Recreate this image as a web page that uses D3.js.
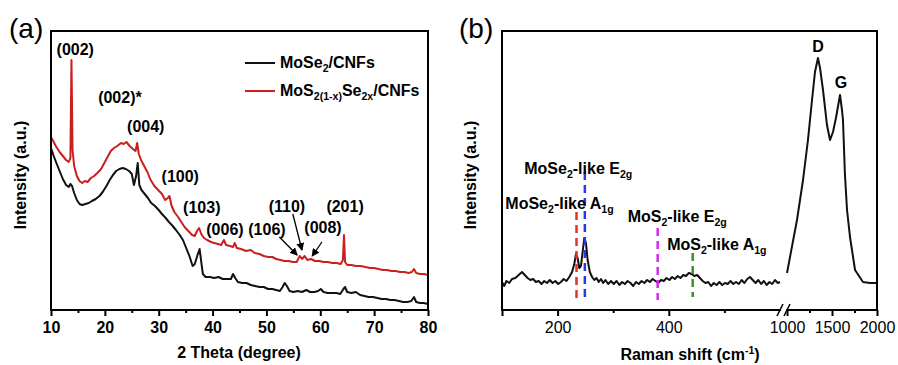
<!DOCTYPE html>
<html>
<head>
<meta charset="utf-8">
<script src="https://cdn.jsdelivr.net/npm/d3@7"></script>
<style>
  body { margin: 0; background: #fff; }
  svg { display: block; font-family: Arial, "Liberation Sans", sans-serif; }
</style>
</head>
<body>
<svg id="chart" width="898" height="365"></svg>
<script>
// ---------- panel (a) : XRD ----------
const redTheta = [10.0,10.5,11.0,11.6,12.2,12.8,13.3,13.6,13.8,14.0,14.3,14.8,15.3,15.8,16.3,16.8,17.4,18.0,18.6,19.3,
  20.0,20.6,21.1,21.7,22.3,23.0,23.5,24.0,24.6,25.2,25.7,26.0,26.3,26.8,27.3,27.9,28.5,29.2,29.9,30.6,
  31.2,31.7,32.0,32.4,32.9,33.6,34.2,34.8,35.5,36.2,36.7,37.1,37.5,37.9,38.4,39.0,39.7,40.3,41.0,41.6,
  42.1,42.5,43.2,43.8,44.1,44.5,45.3,46.2,47.1,47.8,48.7,49.5,50.3,51.1,51.8,52.6,53.3,54.1,54.9,55.6,
  56.2,56.6,57.1,57.6,58.3,59.0,59.8,60.6,61.4,62.2,63.0,63.8,64.2,64.4,64.6,65.0,65.8,66.6,67.5,68.4,
  69.2,70.0,70.8,71.6,72.4,73.2,74.0,74.8,75.6,76.4,77.0,77.4,77.8,78.5,79.2,80.0];
const redInt = [173,168,163,158,154,150,148,152,250,160,144,134,129,127,129,128,132,134,137,141,
  148,154,159,162,164,167,166,168,164,161,159,167,156,149,144,138,130,124,120,116,
  110,112,114,104,98,93,88,83,79,75,74,79,82,76,72,70,68,67,66,65,
  70,65,64,63,67,62,61,59,60,57,56,54,53,53,51,50,49,49,48,48,
  54,51,54,50,51,49,49,48,48,47,47,46,50,75,48,45,45,44,44,43,
  42,42,41,40,40,39,39,38,38,37,38,41,37,36,36,35];

const blackTheta = [10.0,10.5,11.0,11.6,12.2,12.8,13.3,13.6,13.9,14.3,14.8,15.3,15.8,16.4,17.0,17.6,18.3,19.0,19.6,20.3,
  20.9,21.5,22.1,22.7,23.3,23.9,24.5,25.0,25.4,25.8,26.1,26.4,26.8,27.4,28.0,28.6,29.3,30.0,30.6,31.3,
  31.9,32.6,33.2,33.9,34.5,35.1,35.7,36.3,36.7,37.2,37.6,37.9,38.2,38.7,39.5,40.3,41.1,41.9,42.7,43.4,
  43.8,44.2,44.7,45.5,46.3,47.1,47.9,48.7,49.5,50.3,51.1,51.8,52.5,53.0,53.4,53.8,54.3,55.0,55.8,56.6,
  57.4,58.1,58.9,59.6,60.1,60.6,61.4,62.2,63.0,63.7,64.3,64.6,65.0,65.8,66.6,67.4,68.2,69.0,69.8,70.6,
  71.4,72.2,73.0,73.8,74.6,75.4,76.2,76.9,77.4,77.8,78.5,79.2,80.0];
const blackInt = [162,154,147,139,131,125,123,126,124,117,110,106,105,106,107,109,111,114,118,124,
  130,135,139,141,142,141,139,136,125,134,147,125,120,116,112,107,104,100,96,92,
  88,84,80,75,70,62,54,44,46,55,61,48,36,33,33,32,33,31,31,31,
  36,32,28,27,27,25,24,23,23,21,21,20,19,23,27,24,19,18,19,18,
  20,18,18,19,21,18,17,17,17,16,21,23,18,17,18,15,14,13,13,12,
  11,11,10,10,9,8,8,9,13,8,7,7,6];

const xrdTicks = [10, 20, 30, 40, 50, 60, 70, 80];
const xrdMinorTicks = [15, 25, 35, 45, 55, 65, 75];

const peakNames = ['(002)', '(002)*', '(004)', '(100)', '(103)', '(006)', '(106)', '(110)', '(008)', '(201)'];
const peakLabelTheta = [14.5, 22.8, 27.6, 34.0, 38.0, 42.3, 50.1, 53.8, 60.5, 64.6];
const peakLabelInt = [255, 207, 178, 128, 97, 75, 75, 98, 77, 98];

// arrows for the small peaks: from [theta, int] to [theta, int]
const arrowFrom = [[52.4, 73], [54.9, 96], [60.3, 68]];
const arrowTo = [[55.7, 55], [56.6, 60], [58.5, 54]];

// ---------- panel (b) : Raman ----------
const ramanLowShift = [100,104,108,113,118,124,130,136,141,146,151,156,161,166,171,176,181,186,191,196,
  201,206,211,216,221,226,230,233,236,239,242,245,248,251,254,258,262,266,270,274,
  278,282,286,291,296,301,306,311,316,321,326,331,336,341,346,351,356,361,366,371,
  376,381,386,391,396,401,406,411,416,421,426,431,436,441,446,451,456,461,466,471,
  476,481,486,491,496,501,506,511,516,521,526,531,536,541,546,551,556,561,566,571,
  576,581,586,591,596,600];
const ramanLowInt = [28,24,29,27,31,32,35,38,35,32,30,31,28,29,26,29,27,30,27,29,
  26,28,31,29,33,38,46,56,52,42,44,58,72,67,50,38,33,30,32,28,
  31,27,30,26,29,26,29,25,28,26,29,27,24,28,26,29,27,30,28,31,
  29,27,30,29,32,30,33,31,34,32,35,34,37,36,34,35,32,29,27,28,
  24,27,25,28,25,27,26,29,26,28,26,30,27,31,33,30,27,30,26,29,
  25,28,26,30,27,28];

const ramanHighShift = [1000,1111,1178,1233,1278,1311,1344,1367,1400,1444,1478,1511,1544,1589,1611,1622,1644,1667,1700,1756,1844,1922,2000];
const ramanHighInt = [37,90,130,170,210,238,252,242,220,185,170,178,192,215,200,190,135,100,73,40,28,27,27];

const ramanLowTicks = [100, 200, 400];
const ramanLowMinorTicks = [300, 500];
const ramanHighTicks = [1000, 1500, 2000];
const ramanHighMinorTicks = [1250, 1750];

// dashed marker lines: position, top and bottom intensity, colour
const modeShift = [234, 249, 380, 443];
const modeTop = [98, 138, 82, 57];
const modeBottom = [10, 10, 10, 13];
const modeColor = ['#e2322a', '#2a36e8', '#d629ea', '#3f8f2c'];

// mode labels: [main, sub, main, sub]
const modeLabels = [
  ['MoSe', '2', '-like E', '2g'],
  ['MoSe', '2', '-like A', '1g'],
  ['MoS', '2', '-like E', '2g'],
  ['MoS', '2', '-like A', '1g']
];
const modeLabelShift = [140, 106, 326, 397];
const modeLabelInt = [136, 101, 88, 60];

const bandNames = ['D', 'G'];
const bandShift = [1344, 1600];
const bandInt = [258, 222];

// ----------------------------------------------------------
const svg = d3.select('#chart');
const FONT = 'Arial, "Liberation Sans", sans-serif';

const yScale = d3.scaleLinear().domain([0, 279]).range([310, 31]);

// defs: arrowhead
svg.append('defs').append('marker')
    .attr('id', 'arrow')
    .attr('viewBox', '0 0 8 8')
    .attr('refX', 7).attr('refY', 4)
    .attr('markerWidth', 8).attr('markerHeight', 8)
    .attr('markerUnits', 'userSpaceOnUse')
    .attr('orient', 'auto')
    .append('path')
    .attr('d', 'M0,0 L8,4 L0,8 Z')
    .attr('fill', '#000');

// text with sub / superscripts. parts alternate normal / sub
function richText(parent, x, y, parts, opts) {
    const t = parent.append('text')
        .attr('x', x).attr('y', y)
        .attr('font-family', FONT)
        .attr('font-size', opts.size)
        .attr('font-weight', opts.bold ? 'bold' : 'normal')
        .attr('text-anchor', opts.anchor || 'start');
    let shift = 0;
    parts.forEach((p, i) => {
        const isSub = i % 2 === 1;
        const target = isSub ? (opts.sup ? -6 : 4) : 0;
        t.append('tspan')
            .attr('dy', target - shift)
            .attr('font-size', isSub ? opts.size * 0.66 : opts.size)
            .text(p);
        shift = target;
    });
    return t;
}

function styleAxis(g, bold) {
    g.select('.domain').remove();
    g.selectAll('line').attr('stroke', '#000').attr('stroke-width', 2);
    g.selectAll('text')
        .attr('font-family', FONT)
        .attr('font-size', 16)
        .attr('font-weight', bold ? 'bold' : 'normal')
        .attr('fill', '#000');
}

// ================= panel (a) =================
const xA = d3.scaleLinear().domain([10, 80]).range([51, 428]);
const gA = svg.append('g');

const lineA = d3.line().x(d => xA(d[0])).y(d => yScale(d[1]));

gA.append('path')
    .datum(blackTheta.map((t, i) => [t, blackInt[i]]))
    .attr('d', lineA)
    .attr('fill', 'none')
    .attr('stroke', '#111')
    .attr('stroke-width', 2)
    .attr('stroke-linejoin', 'round');

gA.append('path')
    .datum(redTheta.map((t, i) => [t, redInt[i]]))
    .attr('d', lineA)
    .attr('fill', 'none')
    .attr('stroke', '#c8201f')
    .attr('stroke-width', 2)
    .attr('stroke-linejoin', 'round');

// frame
gA.append('rect')
    .attr('x', 51).attr('y', 31).attr('width', 377).attr('height', 279)
    .attr('fill', 'none').attr('stroke', '#000').attr('stroke-width', 2);

gA.append('g')
    .attr('transform', 'translate(0,310)')
    .call(d3.axisBottom(xA).tickValues(xrdTicks).tickSize(6).tickPadding(6).tickFormat(d3.format('d')))
    .call(g => styleAxis(g, true));

gA.append('g')
    .attr('transform', 'translate(0,310)')
    .call(d3.axisBottom(xA).tickValues(xrdMinorTicks).tickSize(3).tickFormat(''))
    .call(g => styleAxis(g, true));

// peak labels
gA.selectAll('.peak-label')
    .data(peakNames)
    .enter()
    .append('text')
    .attr('class', 'peak-label')
    .attr('x', (d, i) => xA(peakLabelTheta[i]))
    .attr('y', (d, i) => yScale(peakLabelInt[i]))
    .attr('text-anchor', 'middle')
    .attr('font-family', FONT)
    .attr('font-size', 16)
    .attr('font-weight', 'bold')
    .text(d => d);

gA.selectAll('.peak-arrow')
    .data(arrowFrom)
    .enter()
    .append('line')
    .attr('class', 'peak-arrow')
    .attr('x1', d => xA(d[0])).attr('y1', d => yScale(d[1]))
    .attr('x2', (d, i) => xA(arrowTo[i][0])).attr('y2', (d, i) => yScale(arrowTo[i][1]))
    .attr('stroke', '#000').attr('stroke-width', 1.3)
    .attr('marker-end', 'url(#arrow)');

// legend
gA.append('line').attr('x1', 245).attr('x2', 275).attr('y1', 63).attr('y2', 63)
    .attr('stroke', '#111').attr('stroke-width', 2);
richText(gA, 280, 68, ['MoSe', '2', '/CNFs'], { size: 16, bold: true });
gA.append('line').attr('x1', 245).attr('x2', 275).attr('y1', 91).attr('y2', 91)
    .attr('stroke', '#c8201f').attr('stroke-width', 2);
richText(gA, 280, 96, ['MoS', '2(1-x)', 'Se', '2x', '/CNFs'], { size: 16, bold: true });

// titles
gA.append('text')
    .attr('x', 239).attr('y', 358)
    .attr('text-anchor', 'middle')
    .attr('font-family', FONT).attr('font-size', 16).attr('font-weight', 'bold')
    .text('2 Theta (degree)');
gA.append('text')
    .attr('transform', 'translate(26,175) rotate(-90)')
    .attr('text-anchor', 'middle')
    .attr('font-family', FONT).attr('font-size', 16).attr('font-weight', 'bold')
    .text('Intensity (a.u.)');
gA.append('text')
    .attr('x', 9).attr('y', 38)
    .attr('font-family', FONT).attr('font-size', 28)
    .text('(a)');

// ================= panel (b) =================
const xB1 = d3.scaleLinear().domain([100, 600]).range([502, 780]);
const xB2 = d3.scaleLinear().domain([1000, 2000]).range([787, 877]);
const gB = svg.append('g');

gB.append('path')
    .datum(ramanLowShift.map((s, i) => [s, ramanLowInt[i]]))
    .attr('d', d3.line().x(d => xB1(d[0])).y(d => yScale(d[1])))
    .attr('fill', 'none').attr('stroke', '#111').attr('stroke-width', 2)
    .attr('stroke-linejoin', 'round');

gB.append('path')
    .datum(ramanHighShift.map((s, i) => [s, ramanHighInt[i]]))
    .attr('d', d3.line().x(d => xB2(d[0])).y(d => yScale(d[1])))
    .attr('fill', 'none').attr('stroke', '#111').attr('stroke-width', 2)
    .attr('stroke-linejoin', 'round');

// dashed mode lines
gB.selectAll('.mode-line')
    .data(modeShift)
    .enter()
    .append('line')
    .attr('class', 'mode-line')
    .attr('x1', d => xB1(d)).attr('x2', d => xB1(d))
    .attr('y1', (d, i) => yScale(modeTop[i]))
    .attr('y2', (d, i) => yScale(modeBottom[i]))
    .attr('stroke', (d, i) => modeColor[i])
    .attr('stroke-width', 2.5)
    .attr('stroke-dasharray', '8,5');

modeLabels.forEach((parts, i) => {
    richText(gB, xB1(modeLabelShift[i]), yScale(modeLabelInt[i]), parts, { size: 16, bold: true });
});

gB.selectAll('.band-label')
    .data(bandNames)
    .enter()
    .append('text')
    .attr('class', 'band-label')
    .attr('x', (d, i) => xB2(bandShift[i]))
    .attr('y', (d, i) => yScale(bandInt[i]))
    .attr('text-anchor', 'middle')
    .attr('font-family', FONT).attr('font-size', 16).attr('font-weight', 'bold')
    .text(d => d);

// frame
gB.append('rect')
    .attr('x', 502).attr('y', 31).attr('width', 375).attr('height', 279)
    .attr('fill', 'none').attr('stroke', '#000').attr('stroke-width', 2);

gB.append('g')
    .attr('transform', 'translate(0,310)')
    .call(d3.axisBottom(xB1).tickValues(ramanLowTicks).tickSize(6).tickPadding(6)
        .tickFormat(d => d === 100 ? '' : d))
    .call(g => styleAxis(g, false));
gB.append('g')
    .attr('transform', 'translate(0,310)')
    .call(d3.axisBottom(xB1).tickValues(ramanLowMinorTicks).tickSize(3).tickFormat(''))
    .call(g => styleAxis(g, false));
gB.append('g')
    .attr('transform', 'translate(0,310)')
    .call(d3.axisBottom(xB2).tickValues(ramanHighTicks).tickSize(6).tickPadding(6).tickFormat(d3.format('d')))
    .call(g => styleAxis(g, false));
gB.append('g')
    .attr('transform', 'translate(0,310)')
    .call(d3.axisBottom(xB2).tickValues(ramanHighMinorTicks).tickSize(3).tickFormat(''))
    .call(g => styleAxis(g, false));

// axis break
gB.append('rect').attr('x', 781).attr('y', 307).attr('width', 5).attr('height', 10).attr('fill', '#fff');
gB.append('line').attr('x1', 777).attr('y1', 316).attr('x2', 783).attr('y2', 304)
    .attr('stroke', '#000').attr('stroke-width', 1.6);
gB.append('line').attr('x1', 784).attr('y1', 316).attr('x2', 790).attr('y2', 304)
    .attr('stroke', '#000').attr('stroke-width', 1.6);

// titles
richText(gB, 690, 360, ['Raman shift (cm', '-1', ')'], { size: 16, bold: true, anchor: 'middle', sup: true });
gB.append('text')
    .attr('transform', 'translate(476,175) rotate(-90)')
    .attr('text-anchor', 'middle')
    .attr('font-family', FONT).attr('font-size', 16).attr('font-weight', 'bold')
    .text('Intensity (a.u.)');
gB.append('text')
    .attr('x', 459).attr('y', 38)
    .attr('font-family', FONT).attr('font-size', 28)
    .text('(b)');
</script>
</body>
</html>
